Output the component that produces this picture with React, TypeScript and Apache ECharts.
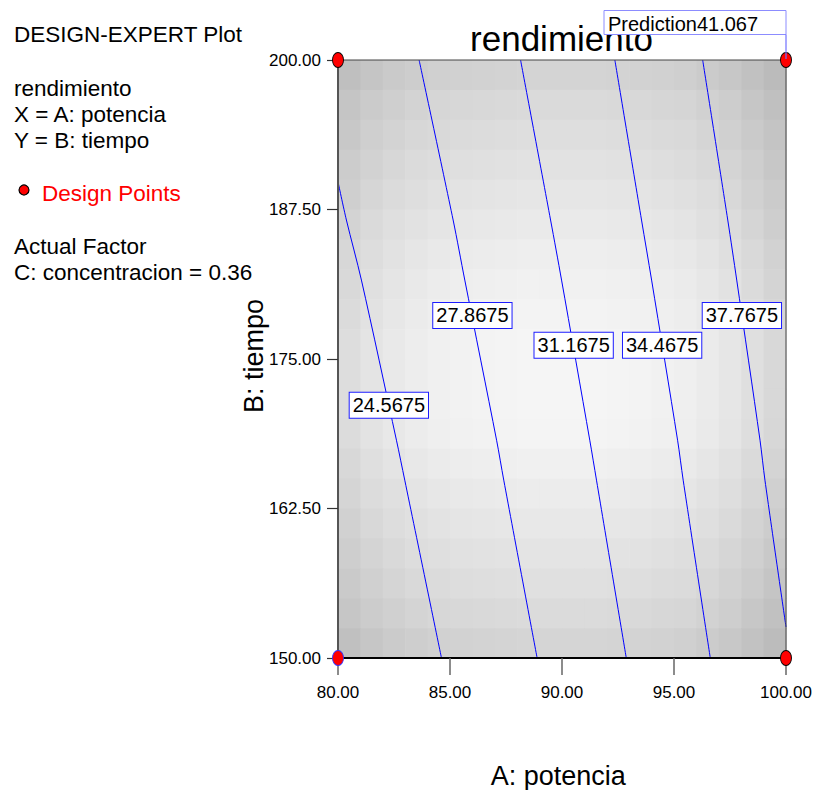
import React, { useEffect, useRef } from "react";
import * as echarts from "echarts";

const FONT = '"Liberation Sans", Arial, Helvetica, sans-serif';

// Factor ranges
const xRange = [80, 100];
const yRange = [150, 200];
const xTickStep = 5;
const yTickStep = 12.5;

// Design points (A: potencia, B: tiempo)
const designPoints: [number, number][] = [
  [80, 200],
  [100, 200],
  [80, 150],
  [100, 150],
];

// Contour levels of rendimiento and their traced paths
const contourLevels = [24.5675, 27.8675, 31.1675, 34.4675, 37.7675];
const contour1: [number, number][] = [
  [80.0, 189.82], [80.375, 186.62], [81.045, 181.6], [82.609, 168.21], [82.98, 164.87], [84.62, 150],
];
const contour2: [number, number][] = [
  [83.62, 200], [85.14, 186.62], [85.66, 181.6], [87.08, 168.21], [87.4, 164.87], [88.89, 150],
];
const contour3: [number, number][] = [
  [88.15, 200], [89.49, 186.62], [89.98, 181.6], [91.24, 168.21], [91.54, 164.87], [92.87, 150],
];
const contour4: [number, number][] = [
  [92.36, 200], [93.55, 186.62], [94.0, 181.6], [95.16, 168.21], [95.41, 164.87], [96.62, 150],
];
const contour5: [number, number][] = [
  [96.28, 200], [97.4, 186.62], [97.8, 181.6], [98.84, 168.21], [99.06, 164.87], [100, 152.59],
];
const contourPaths = [contour1, contour2, contour3, contour4, contour5];
// Where each level's label sits along its line
const contourLabelAt: [number, number][] = [
  [82.27, 171.14], [86.0, 178.64], [90.52, 176.14], [94.47, 176.14], [98.03, 178.64],
];

// Flagged prediction
const predictionPoint: [number, number] = [100, 200];
const predictionValue = 41.067;
const actualFactorC = 0.36;

// Background shading: gray level along the middle row (per column)
// and along the middle column (per row), 20 x 20 cells
const colGray = [221, 228, 233, 237, 240, 242, 243, 244, 245, 245, 245, 245, 244, 243, 241, 239, 235, 230, 223, 216];
const rowGray = [212, 218, 222, 226, 230, 234, 238, 241, 243, 245, 245, 245, 244, 240, 236, 232, 228, 224, 219, 213];
const centerGray = 245;

const legendLines = [
  { text: "DESIGN-EXPERT Plot", y: 34, color: "#000" },
  { text: "rendimiento", y: 88, color: "#000" },
  { text: "X = A: potencia", y: 114, color: "#000" },
  { text: "Y = B: tiempo", y: 140, color: "#000" },
  { text: "Design Points", y: 193, color: "#ff0000", x: 42 },
  { text: "Actual Factor", y: 246.5, color: "#000" },
  { text: "C: concentracion = " + actualFactorC.toFixed(2), y: 272, color: "#000" },
];

const ELLIPSE = "path://M0,8A5.5,8,0,1,1,11,8A5.5,8,0,1,1,0,8Z";

export default function App() {
  const ref = useRef<HTMLDivElement>(null);

  useEffect(() => {
    if (!ref.current) return;
    const chart = echarts.init(ref.current, null, { renderer: "svg" });

    const nCols = colGray.length;
    const nRows = rowGray.length;
    const cellW = (xRange[1] - xRange[0]) / nCols;
    const cellH = (yRange[1] - yRange[0]) / nRows;
    const cells: number[][] = [];
    for (let r = 0; r < nRows; r++) {
      for (let c = 0; c < nCols; c++) {
        const g = Math.round((colGray[c] * rowGray[r]) / centerGray);
        cells.push([xRange[0] + c * cellW, yRange[1] - r * cellH, g]);
      }
    }

    const contourSeries = contourPaths.map((path, i) => ({
      type: "line",
      name: String(contourLevels[i]),
      data: path,
      smooth: 0.3,
      showSymbol: false,
      symbol: "none",
      lineStyle: { color: "#0000ff", width: 1, opacity: 1 },
      z: 3,
      silent: true,
    }));

    const labelSeries = {
      type: "scatter",
      data: contourLabelAt.map((p) => ({ value: p })),
      symbolSize: 1,
      itemStyle: { color: "rgba(0,0,0,0)", opacity: 1 },
      z: 4,
      silent: true,
      label: {
        show: true,
        position: "inside",
        formatter: (p: any) => contourLevels[p.dataIndex].toFixed(4),
        fontFamily: FONT,
        fontSize: 20,
        color: "#000000",
        opacity: 1,
        backgroundColor: "#ffffff",
        borderColor: "#1c1cff",
        borderWidth: 1,
        padding: [3, 3, 2, 3],
        lineHeight: 20,
      },
    };

    const pointSeries = {
      type: "scatter",
      data: designPoints.map((p) => ({
        value: p,
        itemStyle:
          p[0] === xRange[0] && p[1] === yRange[0]
            ? { color: "#ff0000", borderColor: "#3030ff", borderWidth: 1, opacity: 1 }
            : { color: "#ff0000", borderColor: "#000000", borderWidth: 1, opacity: 1 },
      })),
      symbol: ELLIPSE,
      symbolSize: [11, 15],
      clip: false,
      silent: true,
      z: 8,
    };

    const cellSeries = {
      type: "custom",
      data: cells,
      z: 1,
      silent: true,
      renderItem: (params: any, api: any) => {
        const x0 = api.value(0);
        const y0 = api.value(1);
        const g = api.value(2);
        const p0 = api.coord([x0, y0]);
        const p1 = api.coord([x0 + cellW, y0 - cellH]);
        return {
          type: "rect",
          shape: { x: p0[0], y: p0[1], width: p1[0] - p0[0] + 0.6, height: p1[1] - p0[1] + 0.6 },
          style: { fill: `rgb(${g},${g},${g})` },
        };
      },
    };

    chart.setOption({
      animation: false,
      backgroundColor: "#ffffff",
      grid: {
        left: 338,
        top: 60,
        width: 448,
        height: 598,
        show: true,
        borderColor: "#444444",
        borderWidth: 1,
        backgroundColor: "transparent",
        z: 6,
      },
      xAxis: {
        type: "value",
        min: xRange[0],
        max: xRange[1],
        interval: xTickStep,
        z: 6,
        splitLine: { show: false },
        axisLine: { show: true, onZero: false, lineStyle: { color: "#000", width: 2 } },
        axisTick: { show: true, length: 17, lineStyle: { color: "#666", width: 1.5 } },
        axisLabel: {
          margin: 26,
          fontFamily: FONT,
          fontSize: 17,
          color: "#000",
          formatter: (v: number) => v.toFixed(2),
        },
      },
      yAxis: {
        type: "value",
        min: yRange[0],
        max: yRange[1],
        interval: yTickStep,
        z: 6,
        splitLine: { show: false },
        axisLine: { show: true, onZero: false, lineStyle: { color: "#555", width: 2 } },
        axisTick: { show: true, length: 11, lineStyle: { color: "#333", width: 1.2 } },
        axisLabel: {
          margin: 17,
          fontFamily: FONT,
          fontSize: 17,
          color: "#000",
          formatter: (v: number) => v.toFixed(2),
        },
      },
      series: [cellSeries, ...contourSeries, labelSeries, pointSeries],
    });

    const anchor = chart.convertToPixel({ gridIndex: 0 }, predictionPoint) as number[];
    const flagW = 182;
    const flagH = 24;
    const flagBottom = anchor[1] - 25.5;

    const graphics: any[] = legendLines.map((l, i) => ({
      id: "legend" + i,
      type: "text",
      x: (l as any).x ?? 14,
      y: l.y,
      style: {
        text: l.text,
        fill: l.color,
        fontFamily: FONT,
        fontSize: 22.5,
        align: "left",
        verticalAlign: "middle",
      },
    }));
    graphics.push(
      {
        id: "legendDot",
        type: "circle",
        shape: { cx: 24, cy: 190, r: 5 },
        style: { fill: "#ff0000", stroke: "#000", lineWidth: 1.2 },
      },
      {
        id: "title",
        type: "text",
        x: 561.5,
        y: 38.6,
        z: 10,
        style: {
          text: "rendimiento",
          fill: "#000",
          fontFamily: FONT,
          fontSize: 35,
          align: "center",
          verticalAlign: "middle",
        },
      },
      {
        id: "flagBox",
        type: "rect",
        z: 11,
        shape: { x: anchor[0] - flagW, y: flagBottom - flagH, width: flagW, height: flagH },
        style: { fill: "#ffffff", stroke: "#8c8cff", lineWidth: 1 },
      },
      {
        id: "flagText",
        type: "text",
        z: 12,
        x: anchor[0] - flagW + 4,
        y: flagBottom - flagH / 2 + 1.5,
        style: {
          text: "Prediction" + predictionValue.toFixed(3),
          fill: "#000",
          fontFamily: FONT,
          fontSize: 20,
          align: "left",
          verticalAlign: "middle",
        },
      },
      {
        id: "flagLink",
        type: "line",
        z: 20,
        shape: { x1: anchor[0], y1: flagBottom, x2: anchor[0], y2: anchor[1] - 1 },
        style: { stroke: "#7070ff", lineWidth: 1.2 },
      },
      {
        id: "xName",
        type: "text",
        x: 558.3,
        y: 775.6,
        style: {
          text: "A: potencia",
          fill: "#000",
          fontFamily: FONT,
          fontSize: 27,
          align: "center",
          verticalAlign: "middle",
        },
      },
      {
        id: "yName",
        type: "text",
        x: 253.6,
        y: 356,
        rotation: Math.PI / 2,
        style: {
          text: "B: tiempo",
          fill: "#000",
          fontFamily: FONT,
          fontSize: 27,
          align: "center",
          verticalAlign: "middle",
        },
      }
    );
    chart.setOption({ graphic: graphics });

    return () => chart.dispose();
  }, []);

  return (
    <div
      ref={ref}
      style={{ position: "absolute", left: 0, top: 0, width: 817, height: 790 }}
    />
  );
}
